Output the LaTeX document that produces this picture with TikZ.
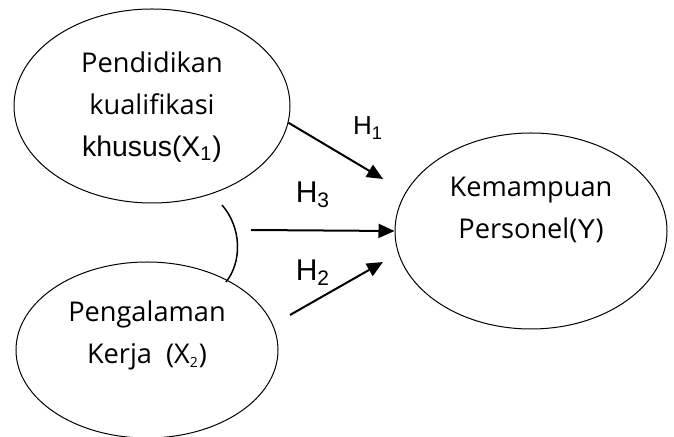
\documentclass[tikz,border=0pt]{standalone}
\usepackage{fontspec}
\setmainfont{Open Sans}
\newfontfamily\arialfont{Liberation Sans}
\usetikzlibrary{shapes.geometric,arrows.meta}

\tikzset{
  varellipse/.style={draw,ellipse,line width=0.5pt,inner sep=0pt},
  vartext/.style={align=center,font=\fontsize{13.6}{21}\selectfont},
  hypo/.style={line width=1pt,-{Triangle[length=8pt,width=7pt]}},
  hlabel/.style={font=\arialfont\fontsize{15}{15}\selectfont}
}

\begin{document}
\begin{tikzpicture}[x=0.5pt,y=-0.5pt]
%\draw[help lines] (0,0) grid (674,437);
\useasboundingbox (0,0) rectangle (674,437);

% Define the ellipse centres
\pgfmathsetmacro{\Xleft}{152};
\pgfmathsetmacro{\Xright}{531};
\pgfmathsetmacro{\Ytop}{106};
\pgfmathsetmacro{\Ymid}{231};
\pgfmathsetmacro{\Ybot}{350};

% draw the variables
\node [varellipse,minimum width=138pt,minimum height=97pt] (x1) at (\Xleft,\Ytop) {};
\node [vartext] (x1txt) at (\Xleft,\Ytop+1) {Pendidikan\\kualifikasi\\{\arialfont\fontsize{14.2}{21}\selectfont khusus(X\textsubscript{1})}};

\node [varellipse,minimum width=131pt,minimum height=88pt] (x2) at (\Xleft-5,\Ybot) {};
\node [vartext] (x2txt) at (\Xleft-5,\Ybot-15) {Pengalaman\\Kerja\ \ (X\textsubscript{\scriptsize 2})};

\node [varellipse,minimum width=136pt,minimum height=98pt] (y) at (\Xright,\Ymid) {};
\node [vartext] (ytxt) at (\Xright,\Ymid-21) {Kemampuan\\Personel({\arialfont Y})};

% free ends of the arrows
\coordinate (h1end) at (383,179);
\coordinate (h3start) at (251,230);
\coordinate (h2start) at (290,315);
\coordinate (h2end) at (383,262);

% draw the hypotheses
\draw [hypo] (x1.-7.5) -- (h1end);
\draw [hypo] (h3start) -- (y.west);
\draw [hypo] (h2start) -- (h2end);

% correlation between X1 and X2
\coordinate (arctop) at (222,205);
\coordinate (arcbot) at (226,282);
\draw [line width=0.75pt] (arctop) .. controls (242,228) and (242,262) .. (arcbot);

\node [hlabel,font=\arialfont\fontsize{13}{13}\selectfont] (h1) at (368,128) {H\textsubscript{1}};
\node [hlabel] (h3) at (313,195) {H\textsubscript{3}};
\node [hlabel] (h2) at (313,273) {H\textsubscript{2}};
\end{tikzpicture}
\end{document}
